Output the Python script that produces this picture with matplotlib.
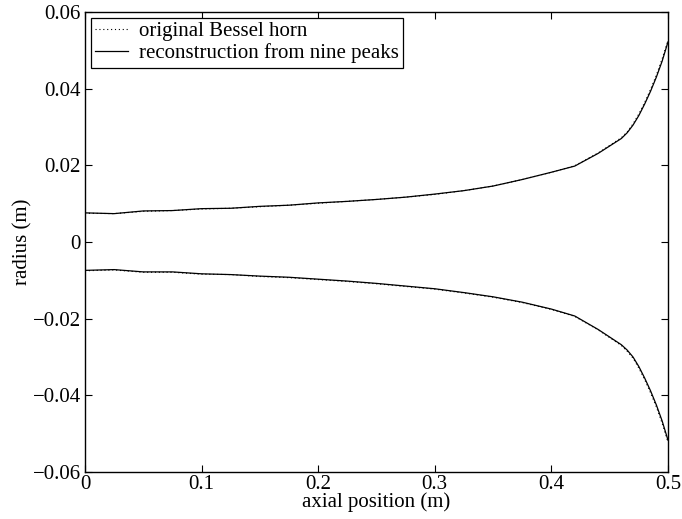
import matplotlib
matplotlib.use("Agg")
import matplotlib.pyplot as plt
from matplotlib.ticker import FixedLocator, FixedFormatter

x_pos = [0, 0.025, 0.05, 0.075, 0.1, 0.125, 0.15, 0.175, 0.2, 0.225, 0.25, 0.275,
         0.3, 0.325, 0.35, 0.375, 0.4, 0.42, 0.44, 0.46, 0.465, 0.47, 0.475, 0.48,
         0.485, 0.49, 0.495, 0.5]
recon_upper = [0.0076, 0.0074, 0.0081, 0.0082, 0.0087, 0.0088, 0.0093, 0.0096, 0.0102,
               0.0106, 0.0111, 0.0117, 0.0125, 0.0134, 0.0146, 0.0163, 0.0182, 0.0198,
               0.0231, 0.0270, 0.0285, 0.0305, 0.0330, 0.0360, 0.0393, 0.0430, 0.0472,
               0.0522]
recon_lower = [-0.0074, -0.0072, -0.0078, -0.0078, -0.0083, -0.0085, -0.0089, -0.0092,
               -0.0097, -0.0102, -0.0108, -0.0115, -0.0122, -0.0132, -0.0143, -0.0157,
               -0.0175, -0.0193, -0.0228, -0.0268, -0.0282, -0.0300, -0.0325, -0.0355,
               -0.0388, -0.0425, -0.0467, -0.0517]
orig_upper = [0.0075, 0.0074, 0.0080, 0.0082, 0.0086, 0.0088, 0.0092, 0.0096, 0.0101,
              0.0106, 0.0111, 0.0117, 0.0124, 0.0134, 0.0146, 0.0163, 0.0182, 0.0199,
              0.0232, 0.0272, 0.0287, 0.0308, 0.0334, 0.0364, 0.0398, 0.0435, 0.0478,
              0.0526]
orig_lower = [-0.0075, -0.0073, -0.0079, -0.0079, -0.0084, -0.0085, -0.0090, -0.0093,
              -0.0098, -0.0103, -0.0109, -0.0116, -0.0123, -0.0133, -0.0144, -0.0158,
              -0.0176, -0.0194, -0.0229, -0.0270, -0.0285, -0.0303, -0.0329, -0.0359,
              -0.0393, -0.0430, -0.0473, -0.0522]

x_ticks = [0, 0.1, 0.2, 0.3, 0.4, 0.5]
x_tick_labels = ["0", "0.1", "0.2", "0.3", "0.4", "0.5"]
y_ticks = [-0.06, -0.04, -0.02, 0, 0.02, 0.04, 0.06]
y_tick_labels = ["\u22120.06", "\u22120.04", "\u22120.02", "0", "0.02", "0.04", "0.06"]

FS = 15
plt.rcParams['font.family'] = ['Liberation Serif', 'DejaVu Serif']
plt.rcParams['font.size'] = FS

fig = plt.figure(figsize=(6.82, 5.19), dpi=100)
ax = fig.add_axes([85/682, 47/519, 583/682, 460/519])

ax.plot(x_pos, orig_upper, color='black', linestyle=(0, (1, 2.5)), linewidth=0.8,
        label='original Bessel horn')
ax.plot(x_pos, recon_upper, color='black', linestyle='-', linewidth=0.9,
        label='reconstruction from nine peaks')
ax.plot(x_pos, orig_lower, color='black', linestyle=(0, (1, 2.5)), linewidth=0.8)
ax.plot(x_pos, recon_lower, color='black', linestyle='-', linewidth=0.9)

ax.set_xlim(0, 0.5)
ax.set_ylim(-0.06, 0.06)
ax.xaxis.set_major_locator(FixedLocator(x_ticks))
ax.xaxis.set_major_formatter(FixedFormatter(x_tick_labels))
ax.yaxis.set_major_locator(FixedLocator(y_ticks))
ax.yaxis.set_major_formatter(FixedFormatter(y_tick_labels))
ax.tick_params(direction='in', length=5, width=0.8, top=True, right=True, pad=3,
               labelsize=FS)
ax.tick_params(axis='x', pad=2)
for s in ax.spines.values():
    s.set_linewidth(1.0)

ax.set_xlabel('axial position (m)', fontsize=FS, labelpad=-1)
ax.set_ylabel('radius (m)', fontsize=FS, labelpad=0)

leg = ax.legend(loc='upper left', fontsize=FS, frameon=True, fancybox=False,
                edgecolor='black', framealpha=1, borderpad=0.2, labelspacing=0.1,
                handlelength=1.6, handletextpad=0.5, borderaxespad=0.27)
leg.get_frame().set_linewidth(0.9)

fig.savefig('out.png', dpi=100)
